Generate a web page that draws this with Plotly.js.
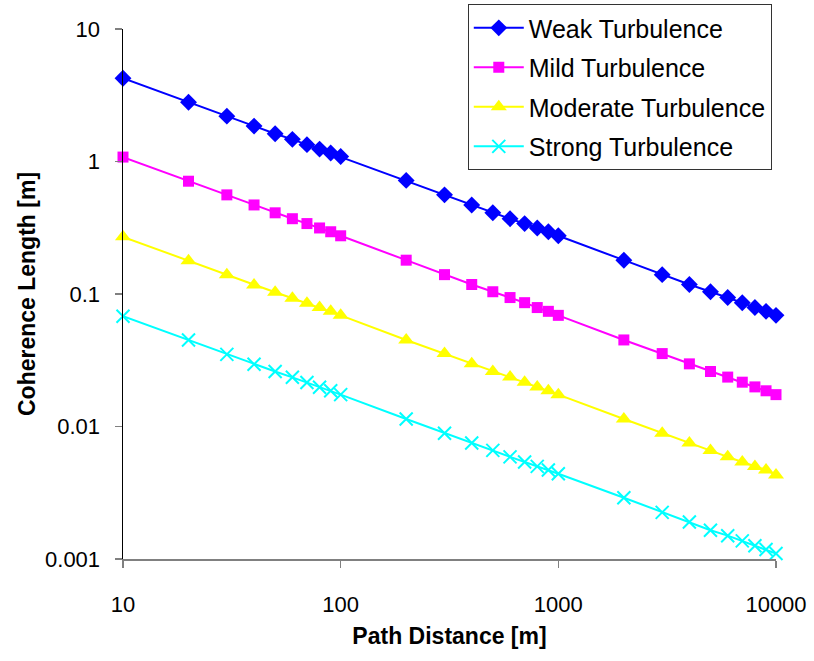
<!DOCTYPE html>
<html>
<head>
<meta charset="utf-8">
<script src="https://cdn.plot.ly/plotly-3.0.1.min.js"></script>
<style>html,body{margin:0;padding:0;background:#fff;}#chart{width:814px;height:661px;}</style>
</head>
<body>
<div id="chart"></div>
<script>
const pathDistance = [10,20,30,40,50,60,70,80,90,100,200,300,400,500,600,700,800,900,1000,2000,3000,4000,5000,6000,7000,8000,9000,10000];
const weak = [4.25,2.8,2.2,1.85,1.62,1.47,1.34,1.24,1.16,1.09,0.72,0.56,0.47,0.41,0.37,0.34,0.315,0.295,0.275,0.18,0.14,0.118,0.104,0.094,0.086,0.079,0.074,0.069];
const mild = [1.08,0.71,0.56,0.47,0.41,0.37,0.34,0.315,0.295,0.275,0.18,0.14,0.118,0.104,0.094,0.086,0.079,0.074,0.069,0.045,0.0355,0.0297,0.026,0.0236,0.0216,0.0199,0.0186,0.0174];
const moderate = [0.27,0.178,0.14,0.117,0.103,0.093,0.085,0.079,0.074,0.069,0.045,0.0355,0.0297,0.026,0.0236,0.0216,0.0199,0.0186,0.0174,0.0114,0.0089,0.0075,0.0066,0.0059,0.0054,0.005,0.0047,0.0043];
const strong = [0.068,0.045,0.035,0.0295,0.026,0.0235,0.0215,0.0198,0.0186,0.0174,0.0114,0.0089,0.0075,0.0066,0.0059,0.0054,0.005,0.0047,0.0044,0.0029,0.00225,0.0019,0.00165,0.0015,0.00137,0.00126,0.00118,0.0011];
const seriesNames = ["Weak Turbulence","Mild Turbulence","Moderate Turbulence","Strong Turbulence"];
const xTickVals = [10,100,1000,10000];
const xTickText = ["10","100","1000","10000"];
const yTickVals = [0.001,0.01,0.1,1,10];
const yTickText = ["0.001","0.01","0.1","1","10"];

const colors = ["#0000FF","#FF00FF","#FFFF00","#00FFFF"];
const symbols = ["diamond","square","triangle-up","x-thin"];
const sizes = [13,11,14,13];
const ys = [weak, mild, moderate, strong];

const traces = ys.map((y,i)=>({
  x: pathDistance, y: y, name: seriesNames[i], type: "scatter", mode: "lines+markers",
  line: {color: colors[i], width: 2},
  marker: {symbol: symbols[i], size: sizes[i], color: colors[i],
           line: {color: colors[i], width: i===3 ? 2 : 0}},
  cliponaxis: false, legendgroup: "g"+i
}));

const layout = {
  width: 814, height: 661,
  margin: {l:123, r:38, t:29, b:102, autoexpand: false},
  paper_bgcolor: "#fff", plot_bgcolor: "#fff",
  font: {family: "Liberation Sans, Arial, sans-serif", color: "#000"},
  showlegend: true,
  legend: {x: 0.528, xanchor: "left", y: 1.047, yanchor: "top",
           bordercolor: "#333", borderwidth: 1, bgcolor: "#fff",
           font: {size: 25, color: "#000"}, itemwidth: 50, tracegroupgap: 4,
           traceorder: "grouped"},
  xaxis: {type: "log", range: [1,4], tickvals: xTickVals, ticktext: xTickText,
          showgrid: false, zeroline: false, showline: true, linecolor: "#808080", linewidth: 1.5,
          ticks: "outside", ticklen: 7, tickcolor: "#808080", tickwidth: 1.5,
          ticklabelstandoff: 18,
          tickfont: {size: 22, color: "#000"},
          title: {text: "<b>Path Distance [m]</b>", font: {size: 23, color: "#000"}, standoff: 12}},
  yaxis: {type: "log", range: [-3,1], tickvals: yTickVals, ticktext: yTickText,
          showgrid: false, zeroline: false, showline: true, linecolor: "#000", linewidth: 1.5,
          ticks: "outside", ticklen: 7, tickcolor: "#808080", tickwidth: 1.5,
          ticklabelstandoff: 10,
          tickfont: {size: 22, color: "#000"},
          title: {text: "<b>Coherence Length [m]</b>", font: {size: 23, color: "#000"}, standoff: 3}}
};
Plotly.newPlot("chart", traces, layout, {displayModeBar: false, staticPlot: true});
</script>
</body>
</html>
